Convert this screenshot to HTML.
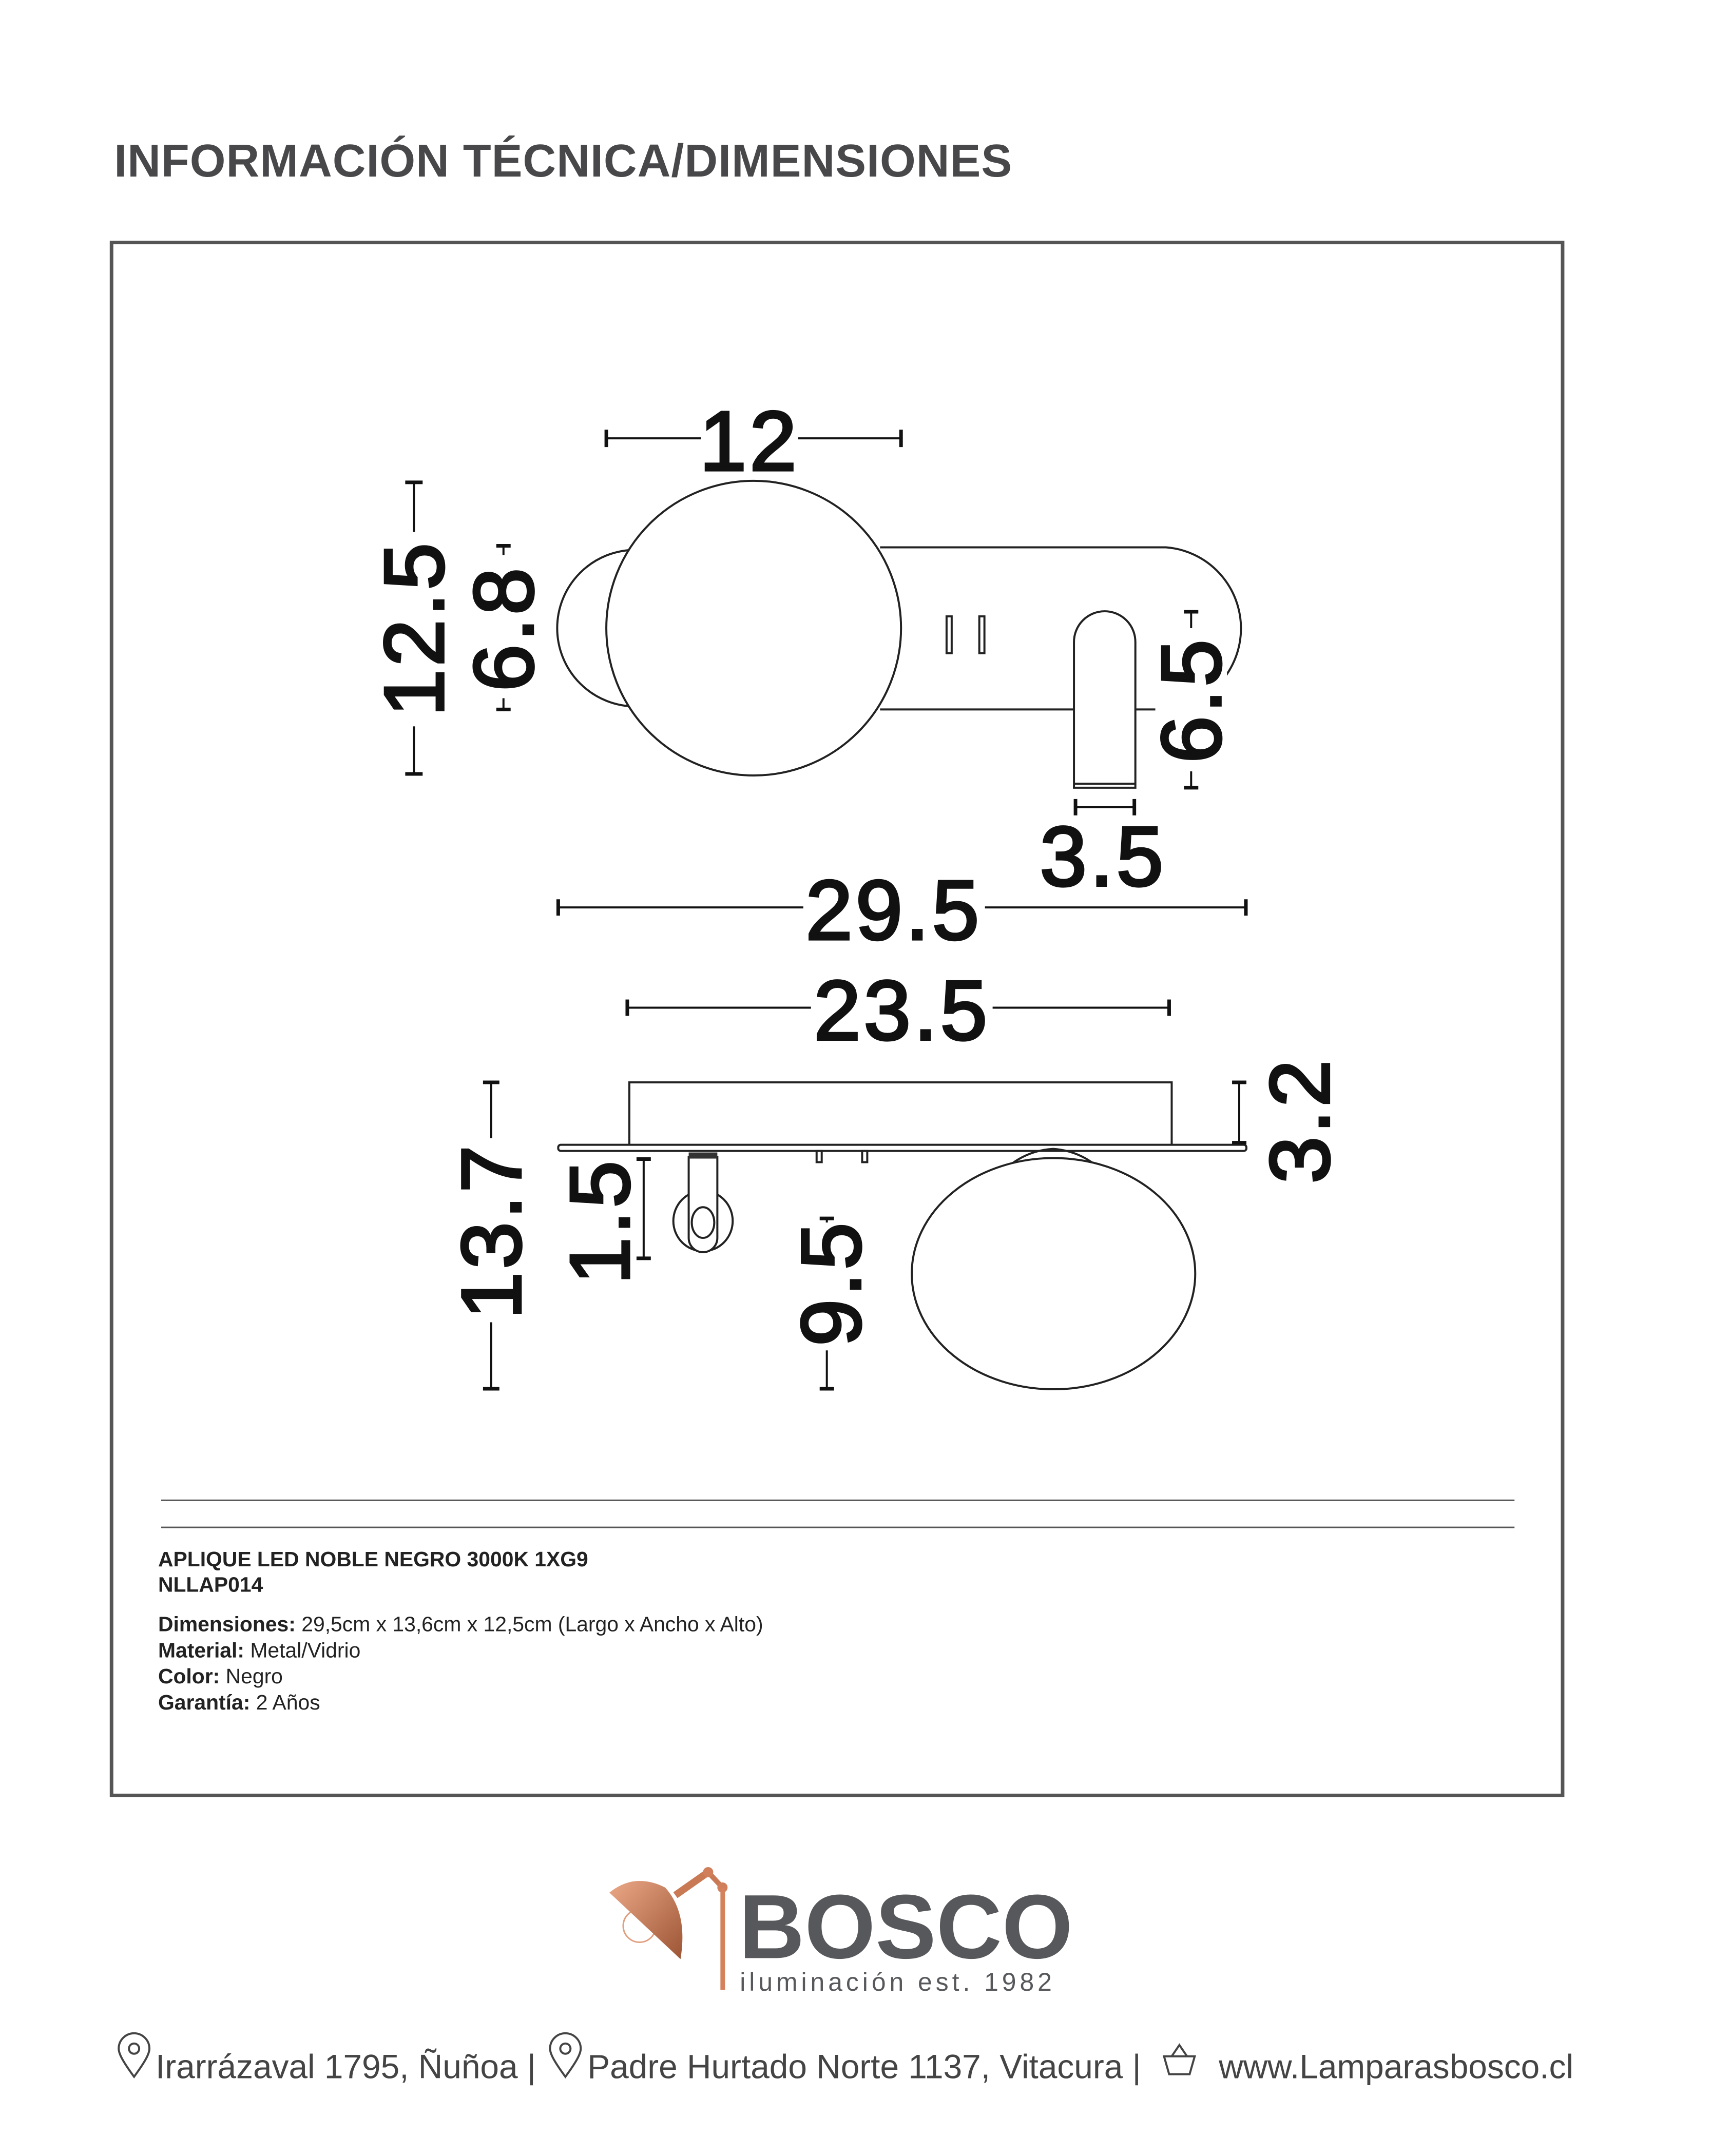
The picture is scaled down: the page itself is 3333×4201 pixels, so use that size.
<!DOCTYPE html>
<html><head><meta charset="utf-8"><style>
html,body{margin:0;padding:0;background:#fff;}
svg{display:block;}
.dim{font-family:"Liberation Sans",sans-serif;font-weight:normal;font-size:165px;fill:#111;stroke:#111;stroke-width:5;text-anchor:middle;dominant-baseline:central;letter-spacing:6px;}
.ln{stroke:#222;stroke-width:4;fill:none;}
.wf{stroke:#222;stroke-width:4;fill:#fff;}
.dl{stroke:#111;stroke-width:4;fill:none;}
.tk{stroke:#111;stroke-width:7;}
.t{font-family:"Liberation Sans",sans-serif;font-size:41px;fill:#222;}
</style></head><body>
<svg width="3333" height="4201" viewBox="0 0 3333 4201" xmlns="http://www.w3.org/2000/svg">
<rect width="3333" height="4201" fill="#fff"/>
<g transform="scale(0.9967)">
<text x="223" y="345" font-family="Liberation Sans,sans-serif" font-weight="bold" font-size="90" fill="#48484a" letter-spacing="1">INFORMACIÓN TÉCNICA/DIMENSIONES</text>
<rect x="218" y="474" width="2836" height="3036" fill="none" stroke="#555" stroke-width="7"/>

<!-- Top view -->
<circle cx="1242" cy="1228" r="153" class="wf"/>
<path d="M1720 1070 H2279 A159 159 0 0 1 2279 1387 H1720 Z" style="fill:#fff;stroke:none"/>
<path d="M1720 1070 H2279 A159 159 0 0 1 2279 1387 H1720" class="ln"/>
<circle cx="1473" cy="1228" r="288" class="wf"/>
<rect x="1850" y="1205" width="10" height="72" class="ln" stroke-width="3"/>
<rect x="1914" y="1205" width="10" height="72" class="ln" stroke-width="3"/>
<path d="M2099 1540 V1255 A60 60 0 0 1 2219 1255 V1540 Z" class="wf"/>
<line x1="2099" y1="1532" x2="2219" y2="1532" class="ln"/>

<!-- dims top -->
<line x1="1185" y1="857" x2="1370" y2="857" class="dl"/><line x1="1560" y1="857" x2="1761" y2="857" class="dl"/>
<line x1="1185" y1="840" x2="1185" y2="874" class="tk"/><line x1="1761" y1="840" x2="1761" y2="874" class="tk"/>
<text x="1465" y="862" class="dim">12</text>

<line x1="809" y1="943" x2="809" y2="1513" class="dl"/>
<line x1="792" y1="943" x2="826" y2="943" class="tk"/><line x1="792" y1="1513" x2="826" y2="1513" class="tk"/>
<rect x="740" y="1040" width="140" height="380" fill="#fff"/>
<text transform="translate(809,1228) rotate(-90)" class="dim">12.5</text>

<line x1="984" y1="1067" x2="984" y2="1387" class="dl"/>
<line x1="970" y1="1067" x2="998" y2="1067" class="tk"/><line x1="970" y1="1387" x2="998" y2="1387" class="tk"/>
<rect x="915" y="1085" width="140" height="280" fill="#fff"/>
<text transform="translate(984,1228) rotate(-90)" class="dim">6.8</text>

<line x1="2328" y1="1196" x2="2328" y2="1540" class="dl"/>
<line x1="2314" y1="1196" x2="2342" y2="1196" class="tk"/><line x1="2314" y1="1540" x2="2342" y2="1540" class="tk"/>
<rect x="2258" y="1228" width="140" height="280" fill="#fff"/>
<text transform="translate(2328,1368) rotate(-90)" class="dim">6.5</text>

<line x1="2102" y1="1578" x2="2217" y2="1578" class="dl"/>
<line x1="2102" y1="1562" x2="2102" y2="1594" class="tk"/><line x1="2217" y1="1562" x2="2217" y2="1594" class="tk"/>
<text x="2156" y="1674" class="dim">3.5</text>

<line x1="1091" y1="1774" x2="1570" y2="1774" class="dl"/><line x1="1925" y1="1774" x2="2435" y2="1774" class="dl"/>
<line x1="1091" y1="1758" x2="1091" y2="1790" class="tk"/><line x1="2435" y1="1758" x2="2435" y2="1790" class="tk"/>
<text x="1747" y="1779" class="dim">29.5</text>

<line x1="1226" y1="1970" x2="1585" y2="1970" class="dl"/><line x1="1940" y1="1970" x2="2285" y2="1970" class="dl"/>
<line x1="1226" y1="1954" x2="1226" y2="1986" class="tk"/><line x1="2285" y1="1954" x2="2285" y2="1986" class="tk"/>
<text x="1763" y="1975" class="dim">23.5</text>

<!-- Side view -->
<rect x="1230" y="2116" width="1060" height="127" class="ln"/>
<rect x="1091" y="2238" width="1345" height="12" rx="5" class="wf"/>
<rect x="1596" y="2250" width="10" height="22" class="ln" stroke-width="3"/>
<rect x="1685" y="2250" width="10" height="22" class="ln" stroke-width="3"/>
<!-- small lamp -->
<ellipse cx="1374" cy="2387" rx="58" ry="59" class="wf"/>
<path d="M1346 2262 V2420 A28 28 0 0 0 1402 2420 V2262 Z" class="wf"/>
<rect x="1346" y="2253" width="56" height="12" fill="#333"/>
<ellipse cx="1374" cy="2390" rx="22" ry="30" class="ln"/>
<!-- globe -->
<path d="M1950 2300 Q1995 2250 2058 2246 Q2120 2250 2165 2300" class="ln" stroke-width="5"/>
<path d="M1958 2305 Q2005 2270 2058 2268 Q2110 2270 2157 2305" class="ln"/>
<ellipse cx="2059" cy="2490" rx="277" ry="226" class="wf"/>

<!-- side dims -->
<line x1="2422" y1="2116" x2="2422" y2="2234" class="dl"/>
<line x1="2408" y1="2116" x2="2436" y2="2116" class="tk"/><line x1="2408" y1="2234" x2="2436" y2="2234" class="tk"/>
<text transform="translate(2540,2190) rotate(-90)" class="dim">3.2</text>

<line x1="960" y1="2116" x2="960" y2="2715" class="dl"/>
<line x1="944" y1="2116" x2="976" y2="2116" class="tk"/><line x1="944" y1="2715" x2="976" y2="2715" class="tk"/>
<rect x="890" y="2225" width="140" height="360" fill="#fff"/>
<text transform="translate(960,2406) rotate(-90)" class="dim">13.7</text>

<line x1="1258" y1="2266" x2="1258" y2="2460" class="dl"/>
<line x1="1244" y1="2266" x2="1272" y2="2266" class="tk"/><line x1="1244" y1="2460" x2="1272" y2="2460" class="tk"/>
<text transform="translate(1172,2387) rotate(-90)" class="dim">1.5</text>

<line x1="1616" y1="2382" x2="1616" y2="2715" class="dl"/>
<line x1="1602" y1="2382" x2="1630" y2="2382" class="tk"/><line x1="1602" y1="2715" x2="1630" y2="2715" class="tk"/>
<rect x="1545" y="2390" width="140" height="250" fill="#fff"/>
<text transform="translate(1624,2508) rotate(-90)" class="dim">9.5</text>

<!-- info -->
<line x1="315" y1="2933" x2="2960" y2="2933" stroke="#555" stroke-width="3"/>
<line x1="315" y1="2986" x2="2960" y2="2986" stroke="#555" stroke-width="3"/>
<text x="309" y="3062" class="t" font-weight="bold">APLIQUE LED NOBLE NEGRO 3000K 1XG9</text>
<text x="309" y="3112" class="t" font-weight="bold">NLLAP014</text>
<text x="309" y="3189" class="t"><tspan font-weight="bold">Dimensiones:</tspan> 29,5cm x 13,6cm x 12,5cm (Largo x Ancho x Alto)</text>
<text x="309" y="3240" class="t"><tspan font-weight="bold">Material:</tspan> Metal/Vidrio</text>
<text x="309" y="3291" class="t"><tspan font-weight="bold">Color:</tspan> Negro</text>
<text x="309" y="3342" class="t"><tspan font-weight="bold">Garantía:</tspan> 2 Años</text>

<!-- logo -->
<defs><linearGradient id="cg" x1="0" y1="0" x2="1" y2="1"><stop offset="0" stop-color="#eba887"/><stop offset="1" stop-color="#9c5535"/></linearGradient></defs>
<circle cx="1250" cy="3765" r="32" fill="none" stroke="#e0a080" stroke-width="3"/>
<path d="M1191 3700 Q1240 3660 1300 3690 Q1345 3740 1330 3830 Z" fill="url(#cg)"/>
<line x1="1320" y1="3705" x2="1384" y2="3660" stroke="#c97a55" stroke-width="14"/>
<line x1="1384" y1="3660" x2="1412" y2="3690" stroke="#c97a55" stroke-width="10"/>
<circle cx="1384" cy="3660" r="10" fill="#d07f5a"/>
<circle cx="1412" cy="3690" r="10" fill="#d07f5a"/>
<rect x="1408" y="3690" width="9" height="200" fill="#d4815c"/>
<text x="1444" y="3828" font-family="Liberation Sans,sans-serif" font-weight="bold" font-size="178" fill="#57585b">BOSCO</text>
<text x="1446" y="3892" font-family="Liberation Sans,sans-serif" font-size="50" fill="#57585b" letter-spacing="7">iluminación est. 1982</text>

<!-- footer -->
<g fill="none" stroke="#444" stroke-width="4">
<path d="M262 4060 C240 4030 232 4015 232 4005 A30 30 0 0 1 292 4005 C292 4015 284 4030 262 4060 Z"/><circle cx="262" cy="4005" r="10"/>
<path d="M1105 4060 C1083 4030 1075 4015 1075 4005 A30 30 0 0 1 1135 4005 C1135 4015 1127 4030 1105 4060 Z"/><circle cx="1105" cy="4005" r="10"/>
<path d="M2275 4020 H2335 L2325 4055 H2285 Z M2290 4020 L2305 3998 L2320 4020"/>
</g>
<text x="304" y="4063" font-family="Liberation Sans,sans-serif" font-size="66" fill="#444">Irarrázaval 1795, Ñuñoa |</text>
<text x="1148" y="4063" font-family="Liberation Sans,sans-serif" font-size="66" fill="#444">Padre Hurtado Norte 1137, Vitacura |</text>
<text x="2382" y="4063" font-family="Liberation Sans,sans-serif" font-size="66" fill="#444">www.Lamparasbosco.cl</text>
</g>
</svg>
</body></html>
